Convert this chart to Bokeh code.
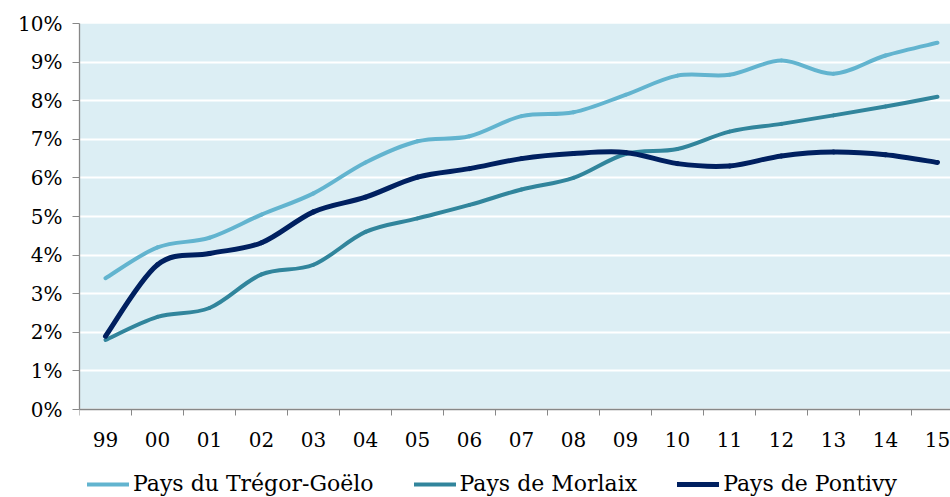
from bokeh.plotting import figure
from bokeh.models import (FixedTicker, Legend, LegendItem, ColumnDataSource,
                          BoxAnnotation)
from bokeh.embed import file_html
from bokeh.resources import INLINE

# ---- data ----
years = ["99", "00", "01", "02", "03", "04", "05", "06", "07", "08",
         "09", "10", "11", "12", "13", "14", "15"]
tregor = [3.4, 4.2, 4.45, 5.05, 5.6, 6.4, 6.95, 7.08, 7.6, 7.7,
          8.15, 8.65, 8.67, 9.04, 8.7, 9.17, 9.5]
morlaix = [1.8, 2.4, 2.63, 3.5, 3.75, 4.6, 4.95, 5.3, 5.7, 6.0,
           6.62, 6.75, 7.2, 7.4, 7.62, 7.85, 8.1]
pontivy = [1.9, 3.75, 4.04, 4.32, 5.12, 5.5, 6.02, 6.24, 6.5, 6.63,
           6.66, 6.37, 6.31, 6.57, 6.67, 6.6, 6.4]
series_names = ["Pays du Trégor-Goëlo", "Pays de Morlaix", "Pays de Pontivy"]
series_colors = ["#62B4CF", "#31859C", "#002060"]
series_widths = [4, 4, 5]
y_ticks = [0, 1, 2, 3, 4, 5, 6, 7, 8, 9, 10]
y_tick_labels = ["0%", "1%", "2%", "3%", "4%", "5%", "6%", "7%", "8%", "9%", "10%"]
y_min, y_max = 0, 10

FONT = "DejaVu Serif"
PX_PER_UNIT = 38.6
FRAME_H = 477


def smooth_segments(vals):
    """Bezier control points (Excel-like smoothing) from the data points."""
    n = len(vals)
    xs = list(range(n))
    x0, y0, x1, y1, cx0, cy0, cx1, cy1 = [], [], [], [], [], [], [], []
    for i in range(n - 1):
        im1 = max(i - 1, 0)
        ip2 = min(i + 2, n - 1)
        x0.append(xs[i]); y0.append(vals[i])
        x1.append(xs[i + 1]); y1.append(vals[i + 1])
        cx0.append(xs[i] + (xs[i + 1] - xs[im1]) / 6.0)
        cy0.append(vals[i] + (vals[i + 1] - vals[im1]) / 6.0)
        cx1.append(xs[i + 1] - (xs[ip2] - xs[i]) / 6.0)
        cy1.append(vals[i + 1] - (vals[ip2] - vals[i]) / 6.0)
    return ColumnDataSource(dict(x0=x0, y0=y0, x1=x1, y1=y1,
                                 cx0=cx0, cy0=cy0, cx1=cx1, cy1=cy1))


p = figure(frame_width=871, frame_height=FRAME_H, output_backend="svg",
           toolbar_location=None,
           x_range=(-0.5, 16.25), y_range=(y_max - FRAME_H / PX_PER_UNIT, y_max),
           min_border_left=79, min_border_top=23, min_border_right=0,
           min_border_bottom=0)

p.background_fill_color = "white"
p.border_fill_color = "white"
p.outline_line_color = None

# light-blue plot area (0% .. 10%)
p.add_layout(BoxAnnotation(bottom=y_min, top=y_max, fill_color="#DCEEF4",
                           fill_alpha=1, line_color=None, level="image"))

# grid
p.xgrid.grid_line_color = None
p.ygrid.grid_line_color = "white"
p.ygrid.grid_line_width = 2
p.ygrid.ticker = FixedTicker(ticks=y_ticks)
p.ygrid.level = "underlay"

# axes
p.yaxis.ticker = FixedTicker(ticks=y_ticks)
p.yaxis.major_label_overrides = {t: l for t, l in zip(y_ticks, y_tick_labels)}
p.yaxis.bounds = (y_min, y_max)
p.xaxis.ticker = FixedTicker(ticks=list(range(len(years))),
                             minor_ticks=[i - 0.5 for i in range(len(years) + 1)])
p.xaxis.major_label_overrides = {i: y for i, y in enumerate(years)}
p.xaxis.fixed_location = y_min

for ax in (p.xaxis, p.yaxis):
    ax.axis_line_color = "#878787"
    ax.axis_line_width = 1.3
    ax.major_label_text_font = FONT
    ax.major_label_text_font_size = "20px"
    ax.major_label_text_color = "black"

p.yaxis.major_tick_line_color = "#878787"
p.yaxis.major_tick_out = 7
p.yaxis.major_tick_in = 0
p.yaxis.minor_tick_line_color = None
p.yaxis.major_label_standoff = 10

p.xaxis.major_tick_line_color = None
p.xaxis.minor_tick_line_color = "#878787"
p.xaxis.minor_tick_out = 6
p.xaxis.minor_tick_in = 0
p.xaxis.major_label_standoff = 16

items = []
for name, vals, col, w in zip(series_names, [tregor, morlaix, pontivy],
                              series_colors, series_widths):
    src = smooth_segments(vals)
    r = p.bezier(x0="x0", y0="y0", x1="x1", y1="y1", cx0="cx0", cy0="cy0",
                 cx1="cx1", cy1="cy1", source=src, line_color=col,
                 line_width=w, line_cap="round")
    items.append(LegendItem(label=name, renderers=[r]))

legend = Legend(items=items, orientation="horizontal", location=(8, 4),
                label_text_font=FONT, label_text_font_size="22px",
                label_text_color="black", glyph_width=42, glyph_height=22,
                label_height=22, label_standoff=4, spacing=40, padding=0,
                margin=0, border_line_alpha=0, background_fill_alpha=0)
p.add_layout(legend)

open("out.html", "w").write(file_html(p, INLINE))
